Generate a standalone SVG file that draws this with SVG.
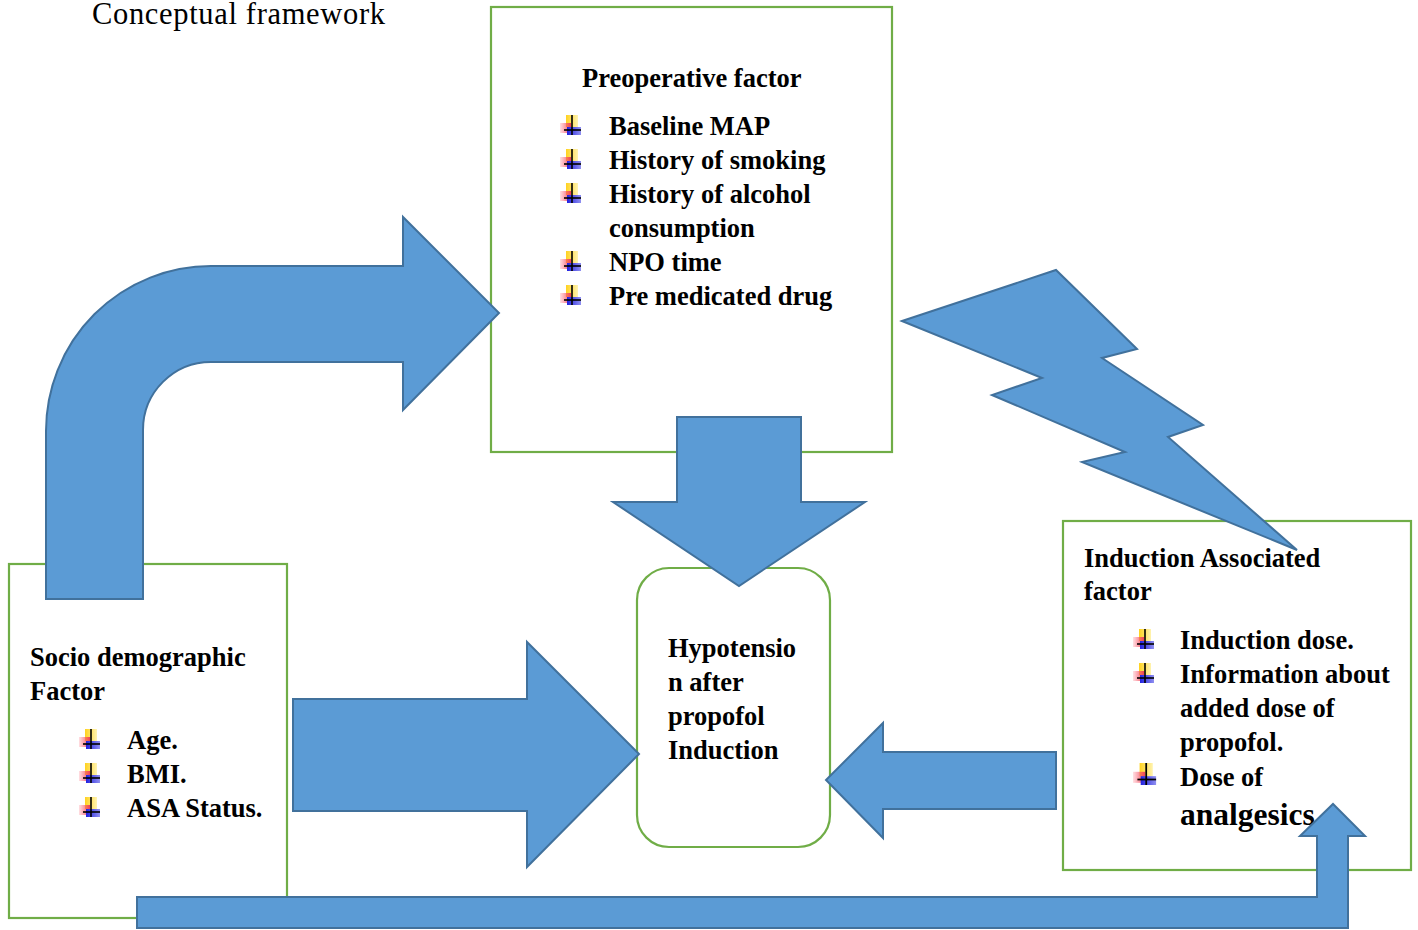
<svg xmlns="http://www.w3.org/2000/svg" width="1418" height="930" viewBox="0 0 1418 930">
<style>
.box{fill:#ffffff;stroke:#70AD47;stroke-width:2.2}
.arr{fill:#5B9BD5;stroke:#41719C;stroke-width:2;stroke-linejoin:miter}
.t{font-family:"Liberation Serif","Times New Roman",serif;font-weight:bold;font-size:26.5px;fill:#000}
.title{font-family:"Liberation Serif","Times New Roman",serif;font-size:30.5px;fill:#000}
</style>
<defs>
<linearGradient id="gy" x1="0" y1="0" x2="1" y2="0"><stop offset="0" stop-color="#FFD21E"/><stop offset="1" stop-color="#FFF3B0"/></linearGradient>
<linearGradient id="gr" x1="0" y1="0" x2="1" y2="0"><stop offset="0" stop-color="#FF6070" stop-opacity="0.2"/><stop offset="1" stop-color="#F04058"/></linearGradient>
<linearGradient id="gb" x1="0" y1="0" x2="1" y2="0"><stop offset="0" stop-color="#2020E0"/><stop offset="1" stop-color="#9090F0"/></linearGradient>
<g id="bul">
<rect x="6" y="0" width="12" height="12" fill="url(#gy)"/>
<rect x="0" y="8" width="11" height="10" fill="url(#gr)"/>
<rect x="7" y="12" width="14" height="8" fill="url(#gb)"/>
<line x1="12" y1="0" x2="12" y2="20" stroke="#000" stroke-width="1.6"/>
<line x1="4" y1="15" x2="21" y2="15" stroke="#000" stroke-width="1.6"/>
</g>
</defs>
<rect width="1418" height="930" fill="#ffffff"/>
<text class="title" x="92" y="24" textLength="293">Conceptual framework</text>

<g id="preoperative">
<rect class="box" x="491" y="7" width="401" height="445"/>
<text class="t" x="582" y="87">Preoperative factor</text>
<use href="#bul" x="560" y="115"/>
<text class="t" x="609" y="135">Baseline MAP</text>
<use href="#bul" x="560" y="149"/>
<text class="t" x="609" y="169">History of smoking</text>
<use href="#bul" x="560" y="183"/>
<text class="t" x="609" y="203">History of alcohol</text>
<text class="t" x="609" y="237">consumption</text>
<use href="#bul" x="560" y="251"/>
<text class="t" x="609" y="271">NPO time</text>
<use href="#bul" x="560" y="285"/>
<text class="t" x="609" y="305">Pre medicated drug</text>
</g>

<g id="sociodemographic">
<rect class="box" x="9" y="564" width="278" height="354"/>
<text class="t" x="30" y="666">Socio demographic</text>
<text class="t" x="30" y="700">Factor</text>
<use href="#bul" x="79" y="729"/>
<text class="t" x="127" y="749">Age.</text>
<use href="#bul" x="79" y="763"/>
<text class="t" x="127" y="783">BMI.</text>
<use href="#bul" x="79" y="797"/>
<text class="t" x="127" y="817">ASA Status.</text>
</g>

<g id="hypotension">
<rect class="box" x="637" y="568" width="193" height="279" rx="32" ry="32"/>
<text class="t" x="668" y="657">Hypotensio</text>
<text class="t" x="668" y="691">n after</text>
<text class="t" x="668" y="725">propofol</text>
<text class="t" x="668" y="759">Induction</text>
</g>

<g id="induction">
<rect class="box" x="1063" y="521" width="348" height="349"/>
<text class="t" x="1084" y="567">Induction Associated</text>
<text class="t" x="1084" y="600">factor</text>
<use href="#bul" x="1133" y="629"/>
<text class="t" x="1180" y="649">Induction dose.</text>
<use href="#bul" x="1133" y="663"/>
<text class="t" x="1180" y="683">Information about</text>
<text class="t" x="1180" y="717">added dose of</text>
<text class="t" x="1180" y="751">propofol.</text>
<use href="#bul" transform="translate(1133,763) scale(1.1)"/>
<text class="t" x="1180" y="786">Dose of</text>
<text class="t" x="1180" y="825" style="font-size:31.5px">analgesics</text>
</g>

<g id="connectors">
<path class="arr" d="M46,599 L46,431 A165,165 0 0 1 211,266 L403,266 L403,217 L499,313 L403,410 L403,362 L211,362 A68,68 0 0 0 143,430 L143,599 Z"/>
<path class="arr" d="M677,417 L801,417 L801,502 L865,502 L739,586 L613,502 L677,502 Z"/>
<path class="arr" d="M293,699 L527,699 L527,642 L639,754 L527,867 L527,811 L293,811 Z"/>
<path class="arr" d="M1056,752 L883,752 L883,723 L826,780 L883,838 L883,809 L1056,809 Z"/>
<path class="arr" d="M902,321 L1056,270 L1137,349 L1102,358 L1203,425 L1168,437 L1297,550 L1082,462 L1125,452 L992,395 L1042,378 Z"/>
<path class="arr" d="M137,897 L1317,897 L1317,836 L1300,836 L1333,804 L1365,836 L1348,836 L1348,928 L137,928 Z"/>
</g>
</svg>
